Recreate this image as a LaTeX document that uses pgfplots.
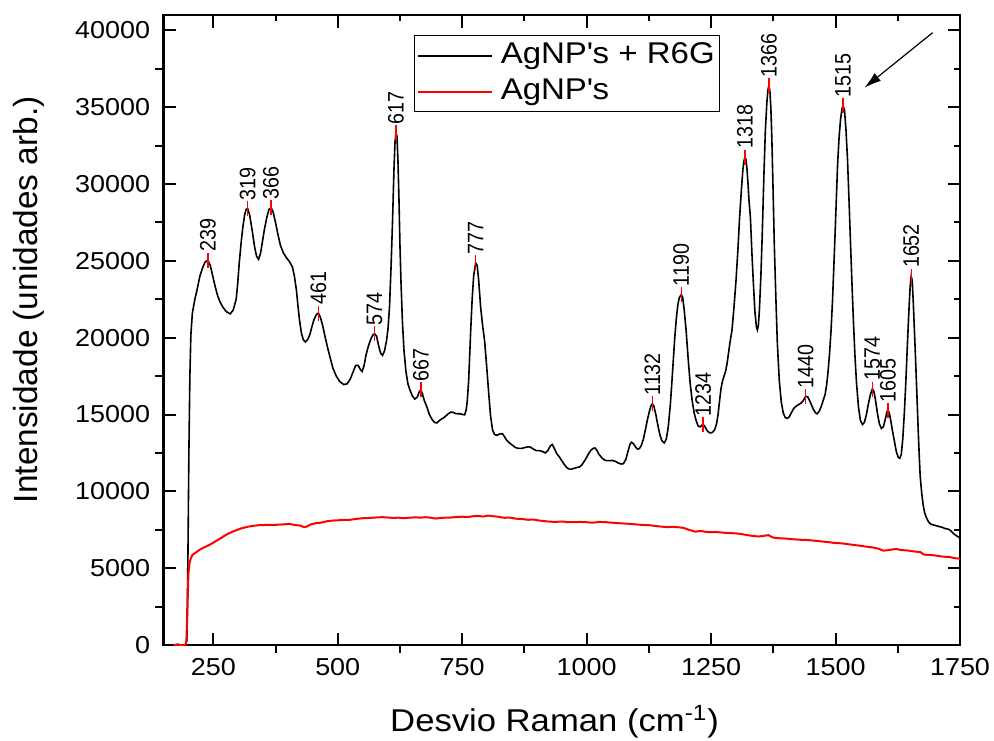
\documentclass[border=0pt]{standalone}
\usepackage{fontspec}
\setmainfont{Liberation Sans}[FakeStretch=1.1]
\newfontfamily\rotfont{Liberation Sans}
\newfontfamily\peakfont{Liberation Sans}[FakeStretch=0.88]
\usepackage{pgfplots}
\pgfplotsset{compat=1.18}
\usetikzlibrary{arrows.meta}

\pgfplotstableread{
x y
170 0
178 50
186 0
194 0
197 300
199 5500
201 12500
203 17500
205 20200
208 21600
213 22500
218 23200
223 24000
228 24500
233 24900
239 25050
244 24700
249 24000
254 23300
259 22700
264 22300
269 22000
276 21700
284 21550
290 21800
296 22500
299 23500
302 24800
306 26200
309 27100
313 28000
316 28350
319 28400
323 28000
326 27400
329 26800
333 25900
337 25300
341 25100
345 25500
349 26300
353 27100
358 27900
362 28350
366 28450
370 28200
375 27500
380 26700
385 26000
391 25500
397 25200
403 24950
409 24600
413 24000
417 23100
420 22100
423 21200
427 20300
431 19850
435 19720
440 19900
444 20200
448 20700
452 21150
457 21500
461 21600
465 21350
470 20750
475 20000
480 19300
484 18800
490 18050
497 17500
504 17150
512 16950
519 17000
525 17300
530 17700
536 18200
541 18200
545 17950
549 17800
553 18200
557 18900
562 19500
567 19950
571 20200
574 20250
578 20100
582 19500
586 19000
590 18850
594 19150
598 19800
601 20600
604 22000
607 24500
610 27500
613 31000
615 32700
617 33350
619 33100
621 31500
623 29000
625 26000
627 23700
630 21000
633 19200
637 17800
641 17000
645 16600
650 16200
655 16000
660 16150
664 16500
667 16600
670 16350
674 15900
679 15500
684 15000
690 14650
695 14480
699 14450
704 14600
708 14700
712 14770
717 14900
722 15050
727 15150
731 15150
736 15070
741 15050
746 15050
751 15000
755 14980
758 15300
760 15800
763 17200
767 20400
770 22500
773 24000
777 24870
780 24700
783 23800
787 22000
791 20800
795 19800
799 18200
803 16500
807 14900
811 14000
815 13700
819 13650
823 13700
827 13750
831 13750
835 13550
840 13300
845 13150
851 13000
857 12850
863 12800
870 12800
876 12850
882 12900
887 12880
893 12750
899 12650
905 12650
911 12600
917 12500
922 12650
927 12950
931 13050
935 12800
940 12450
945 12250
950 12000
955 11750
960 11550
965 11450
970 11450
975 11500
980 11550
985 11580
990 11700
994 11900
998 12100
1003 12400
1008 12650
1013 12800
1017 12820
1021 12650
1025 12400
1030 12200
1035 12050
1040 12000
1046 12000
1052 12010
1058 11950
1063 11850
1069 11780
1074 11800
1079 12100
1083 12600
1087 13050
1090 13200
1094 13100
1098 12900
1102 12750
1106 12780
1110 13000
1114 13400
1118 14000
1122 14650
1126 15200
1129 15550
1132 15700
1135 15550
1139 15000
1143 14300
1147 13700
1151 13300
1156 13150
1160 13400
1164 14200
1168 15600
1171 17000
1174 18500
1177 20000
1180 21200
1183 22100
1186 22600
1190 22800
1193 22600
1196 21800
1200 20400
1204 18600
1208 17000
1212 15900
1216 15100
1220 14600
1224 14250
1228 14200
1231 14300
1234 14350
1237 14250
1241 14000
1245 13850
1249 13800
1253 13850
1257 14000
1261 14400
1264 15000
1267 15900
1270 16700
1273 17200
1276 17500
1279 17800
1282 18300
1285 19000
1288 19700
1292 20500
1296 22000
1300 23700
1304 25800
1307 27700
1311 29700
1314 31000
1316 31500
1318 31750
1320 31600
1322 31000
1324 30100
1326 29000
1329 27800
1332 25500
1335 23500
1338 21700
1341 20700
1343 20500
1345 20800
1347 21800
1350 24000
1353 27000
1356 30500
1359 33500
1362 35300
1364 36100
1366 36400
1368 36100
1370 35000
1372 33000
1374 30300
1377 26000
1380 22700
1383 19700
1387 17200
1391 15800
1395 15100
1399 14800
1403 14750
1407 14850
1411 15100
1416 15400
1421 15550
1426 15650
1431 15750
1435 15900
1440 16180
1444 16150
1448 15900
1452 15600
1456 15300
1460 15100
1463 15050
1467 15200
1471 15500
1475 15900
1479 16300
1482 16900
1485 17800
1488 19000
1491 20500
1494 22500
1497 25000
1501 28500
1504 31200
1507 33000
1510 34200
1513 34900
1515 35100
1518 34800
1521 33500
1524 31600
1527 29000
1530 26200
1533 23500
1536 21000
1539 18800
1542 17100
1546 15500
1550 14600
1554 14350
1558 14500
1562 15000
1566 15700
1570 16300
1574 16660
1577 16500
1580 16000
1584 15100
1588 14400
1592 14100
1596 14200
1600 14700
1603 15150
1605 15270
1608 15100
1611 14600
1614 14000
1618 13300
1622 12600
1626 12200
1629 12150
1632 12400
1635 13400
1638 15000
1641 17000
1644 19300
1646 20800
1648 22200
1650 23400
1652 24000
1654 23700
1656 22400
1658 20800
1660 19200
1662 17500
1664 15800
1666 14000
1668 12400
1670 11000
1673 9900
1676 9100
1679 8600
1683 8250
1687 8000
1692 7850
1698 7800
1704 7750
1709 7700
1715 7650
1720 7580
1726 7540
1729 7500
1733 7380
1737 7250
1741 7150
1746 7050
1750 6950
}\blackdata

\pgfplotstableread{
x y
170 0
186 0
194 0
196 300
198 2200
200 4600
202 5300
205 5650
208 5860
215 6020
222 6190
230 6330
240 6480
248 6620
256 6780
265 6950
273 7120
281 7260
289 7380
297 7480
305 7580
312 7640
320 7700
331 7760
342 7800
353 7810
364 7820
375 7820
386 7840
394 7860
402 7880
409 7840
416 7800
424 7780
430 7700
434 7670
440 7740
446 7850
456 7930
466 7960
478 8050
490 8100
500 8110
511 8150
523 8140
535 8200
550 8250
565 8270
578 8300
589 8320
600 8300
612 8270
622 8290
630 8250
642 8280
655 8310
667 8290
677 8320
687 8280
697 8230
710 8280
724 8290
736 8320
750 8350
762 8330
772 8380
782 8400
792 8360
802 8420
812 8380
822 8350
834 8280
846 8290
858 8220
870 8200
882 8150
894 8160
905 8100
916 8060
925 8030
937 8010
950 8040
962 8000
975 7990
988 8010
1000 7990
1012 7960
1025 8010
1040 7990
1055 7950
1068 7920
1080 7900
1095 7860
1110 7820
1125 7800
1140 7740
1152 7700
1160 7670
1172 7690
1185 7660
1195 7620
1205 7500
1218 7380
1230 7420
1240 7360
1252 7340
1265 7340
1278 7300
1292 7280
1305 7250
1320 7170
1333 7100
1345 7060
1355 7100
1365 7150
1374 7000
1385 6950
1400 6930
1415 6880
1430 6850
1445 6830
1460 6780
1475 6730
1490 6680
1500 6630
1512 6620
1525 6560
1540 6500
1552 6450
1562 6400
1575 6350
1588 6250
1596 6140
1605 6170
1614 6220
1622 6250
1632 6180
1645 6150
1660 6080
1670 6050
1678 5880
1690 5860
1700 5830
1715 5750
1728 5730
1740 5650
1750 5620
}\reddata

\pgfplotstableread{
x y lab
239 25050 239
319 28400 319
366 28450 366
461 21600 461
574 20250 574
617 33350 617
667 16600 667
777 24870 777
1132 15700 1132
1190 22800 1190
1234 14350 1234
1318 31750 1318
1366 36400 1366
1440 16180 1440
1515 35100 1515
1574 16660 1574
1605 15270 1605
1652 24000 1652
}\peakdata

\begin{document}
\begin{tikzpicture}
\useasboundingbox (-81.75pt,-47.5pt) rectangle (415.25pt,322.5pt);
% top and right ticks (all inside)
\begin{axis}[
  at={(0,0)}, anchor=south west, scale only axis,
  width=398.25pt, height=315pt,
  xmin=150, xmax=1750, ymin=0, ymax=41000,
  xtick={250,500,750,1000,1250,1500,1750},
  ytick={0,5000,10000,15000,20000,25000,30000,35000,40000},
  minor x tick num=1, minor y tick num=1,
  xtick pos=right, ytick pos=right, tick align=inside,
  xticklabels={}, yticklabels={},
  major tick length=6.25pt, minor tick length=3pt,
  axis line style={line width=1.2pt},
  tick style={line width=1pt, black},
]
\end{axis}
\begin{axis}[
  at={(0,0)}, anchor=south west, scale only axis,
  width=398.25pt, height=315pt,
  xmin=150, xmax=1750, ymin=0, ymax=41000,
  xtick={250,500,750,1000,1250,1500,1750},
  ytick={0,5000,10000,15000,20000,25000,30000,35000,40000},
  xtick pos=left, ytick pos=left, tick align=inside,
  major tick length=6.25pt,
  extra x ticks={375,625,875,1125,1375,1625},
  extra x tick labels={},
  extra x tick style={tick align=outside, major tick length=4pt},
  extra y ticks={2500,7500,12500,17500,22500,27500,32500,37500},
  extra y tick labels={},
  extra y tick style={tick align=outside, major tick length=4pt},
  scaled ticks=false,
  /pgf/number format/assume math mode=true,
  /pgf/number format/1000 sep={},
  tick label style={font=\fontsize{12.25}{14}\selectfont},
  yticklabel style={xshift=-3.2pt},
  xticklabel style={yshift=-3.4pt},
  axis line style={line width=1.2pt},
  tick style={line width=1pt, black},
  xlabel={Desvio Raman (cm\textsuperscript{-1})},
  ylabel={\rotfont Intensidade (unidades arb.)},
  xlabel style={font=\fontsize{15.75}{18}\selectfont, at={(axis description cs:0.491,-0.137)}, anchor=base},
  ylabel style={font=\fontsize{16.7}{19}\selectfont, at={(axis description cs:-0.158,0.548)}, anchor=base},
  legend style={at={(0.314,0.968)}, anchor=north west, draw=black, line width=0.6pt,
    font=\fontsize{15}{18}\selectfont, inner xsep=1.5pt, inner ysep=2.5pt,
    row sep=3.25pt, column sep=3pt,
    nodes={inner sep=1pt, text depth=0.25em}},
  legend cell align=left,
  legend image code/.code={\draw[#1, line width=0.8pt] (0pt,0pt) -- (37pt,0pt);},
]
\addplot[black, line width=0.8pt] table[x=x, y=y] {\blackdata};
\addlegendentry{AgNP\textquotesingle s + R6G}
\addplot[red, line width=1pt] table[x=x, y=y] {\reddata};
\addlegendentry{AgNP\textquotesingle s}
\addplot[red, only marks, mark=|, mark size=3.75pt, mark options={line width=0.7pt},
  nodes near coords, point meta=explicit symbolic,
  every node near coord/.append style={black, font=\peakfont\fontsize{11.2}{13}\selectfont,
    rotate=90, anchor=west, inner xsep=3.8pt, inner ysep=0pt},
  forget plot] table[x=x, y=y, meta=lab] {\peakdata};
\draw[-{Latex[length=8.5pt,width=5pt]}, line width=0.6pt] (axis cs:1695,39850) -- (axis cs:1558,36270);
\end{axis}
\end{tikzpicture}
\end{document}
